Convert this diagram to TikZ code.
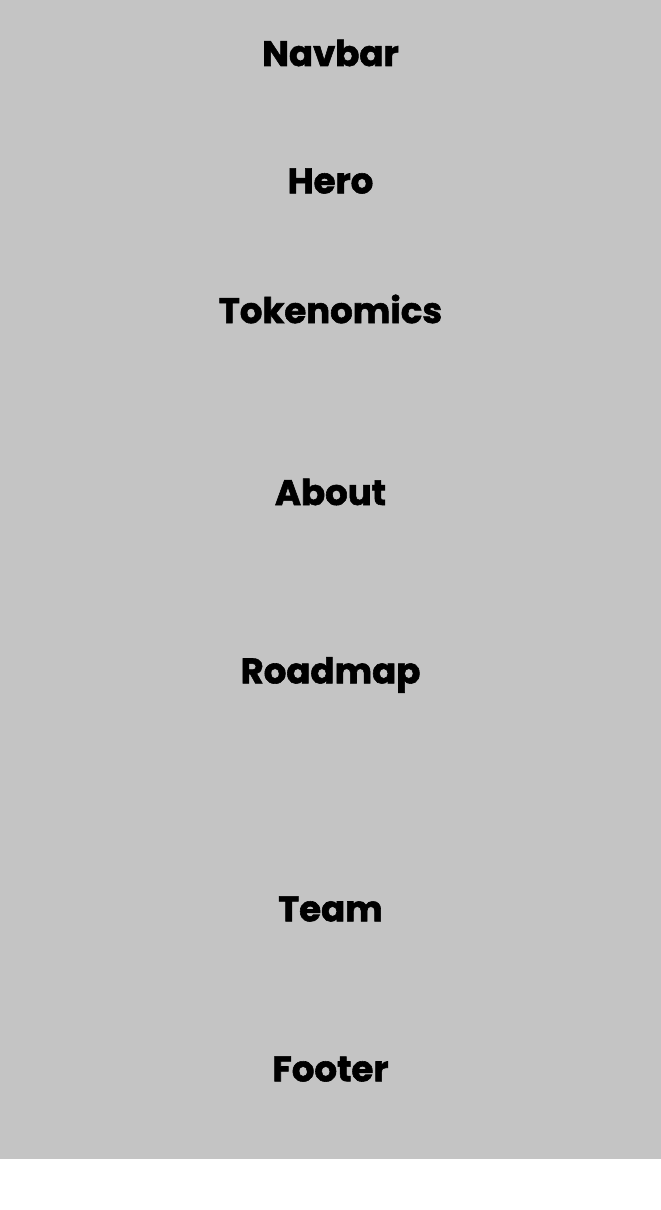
\documentclass[tikz,border=0pt]{standalone}
\usepackage{fontspec}
\setmainfont{Poppins}[BoldFeatures={FakeBold=1.6}]
\definecolor{bggray}{HTML}{C4C4C4}
\begin{document}
\begin{tikzpicture}[x=1pt,y=1pt,
  lbl/.style={font=\fontsize{35.5}{40}\selectfont\bfseries, text=black, inner sep=0pt, anchor=center}]
\useasboundingbox (0,0) rectangle (661,-1210);
\fill[white] (0,0) rectangle (661,-1210);
\fill[bggray] (0,0) rectangle (661,-1159);
\node[lbl] (navbar) at (330.5,-53) {Navbar};
\node[lbl] (hero) at (330.5,-181) {Hero};
\node[lbl] (tokenomics) at (330.5,-309) {Tokenomics};
\node[lbl] (about) at (330.5,-492) {About};
\node[lbl] (roadmap) at (330.5,-675) {Roadmap};
\node[lbl] (team) at (330.5,-909) {Team};
\node[lbl] (footer) at (330.5,-1069) {Footer};
\end{tikzpicture}
\end{document}
